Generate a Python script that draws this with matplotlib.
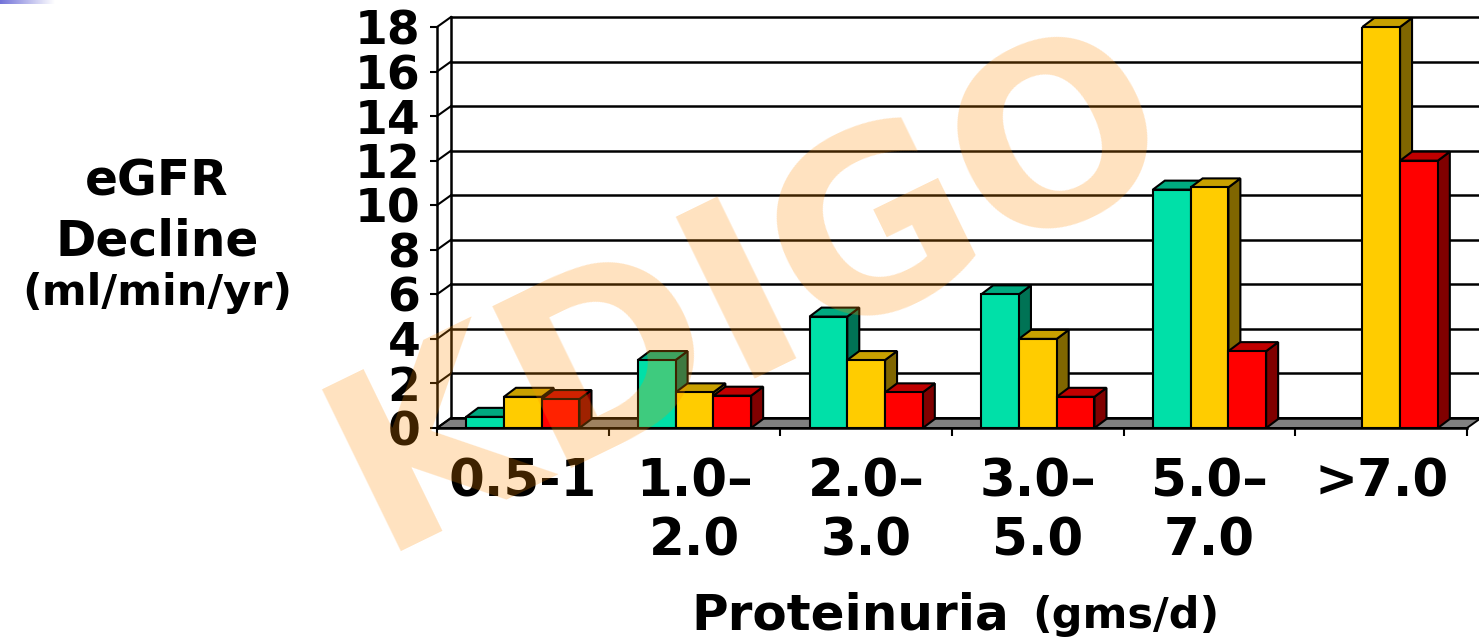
import matplotlib.pyplot as plt
import numpy as np
from matplotlib.patches import Polygon

# data (eGFR decline, ml/min/yr)
categories = ["0.5-1", "1.0–\n2.0", "2.0–\n3.0", "3.0–\n5.0", "5.0–\n7.0", ">7.0"]
green_vals = [0.5, 3.05, 5.0, 6.0, 10.7, np.nan]
yellow_vals = [1.4, 1.6, 3.05, 4.0, 10.8, 18.0]
red_vals = [1.3, 1.45, 1.6, 1.4, 3.45, 12.0]
y_ticks = [0, 2, 4, 6, 8, 10, 12, 14, 16, 18]

# front / top / side colours of each series
series = [
    (green_vals, "#00E0A8", "#00AA80", "#007355"),
    (yellow_vals, "#FFCC00", "#C8A000", "#806600"),
    (red_vals, "#FF0000", "#C00000", "#800000"),
]

W, H = 1479, 640
fig = plt.figure(figsize=(W / 100, H / 100), dpi=100)

# plot area in pixels (front plane)
left, right, bottom, top = 437, 1467, 428, 27
ax = fig.add_axes([left / W, 1 - bottom / H, (right - left) / W, (bottom - top) / H])
ax.set_xlim(0, 6)
ax.set_ylim(0, 18)
ax.patch.set_visible(False)

ppx = (right - left) / 6.0
ppy = (bottom - top) / 18.0
wall_dx, wall_dy = 14 / ppx, 10 / ppy
bar_dx, bar_dy = 12 / ppx, 9 / ppy

# floor
ax.add_patch(Polygon([(0, 0), (6, 0), (6 + wall_dx, wall_dy), (wall_dx, wall_dy)],
                     closed=True, fc="#808080", ec="black", lw=1.4, clip_on=False, zorder=1))

# back wall grid + side wall lines
for v in y_ticks:
    ax.plot([wall_dx, 6 + wall_dx], [v + wall_dy, v + wall_dy], color="black", lw=1.8,
            clip_on=False, zorder=1.5)
    ax.plot([0, wall_dx], [v, v + wall_dy], color="black", lw=1.5, clip_on=False, zorder=1.5)
ax.plot([wall_dx, wall_dx], [wall_dy, 18 + wall_dy], color="black", lw=1.8, clip_on=False, zorder=1.5)

# 3d-looking bars
bw = 0.22
for c in range(len(categories)):
    for s, (vals, fc, tc, sc) in enumerate(series):
        v = vals[c]
        if np.isnan(v):
            continue
        x0 = c + 0.17 + s * bw
        z = 2 + (c * 3 + s) * 0.05
        side = [(x0 + bw, 0), (x0 + bw + bar_dx, bar_dy), (x0 + bw + bar_dx, v + bar_dy), (x0 + bw, v)]
        topf = [(x0, v), (x0 + bw, v), (x0 + bw + bar_dx, v + bar_dy), (x0 + bar_dx, v + bar_dy)]
        ax.add_patch(Polygon(side, closed=True, fc=sc, ec="black", lw=1.5, zorder=z, clip_on=False))
        ax.add_patch(Polygon(topf, closed=True, fc=tc, ec="black", lw=1.5, zorder=z + 0.01, clip_on=False))
        ax.bar(x0, v, bw, align="edge", color=fc, edgecolor="black", lw=1.5, zorder=z + 0.02)

for sp in ["top", "right"]:
    ax.spines[sp].set_visible(False)
for sp in ["left", "bottom"]:
    ax.spines[sp].set_linewidth(1.8)
    ax.spines[sp].set_zorder(5)

ax.set_yticks(y_ticks)
ax.set_yticklabels([str(t) for t in y_ticks], fontsize=34, fontweight="bold")
ax.tick_params(axis="y", length=5, width=1.5, pad=7)

ax.set_xticks(range(7))
ax.set_xticklabels([""] * 7)
ax.tick_params(axis="x", which="major", length=6, width=1.5)
ax.set_xticks(np.arange(6) + 0.5, minor=True)
ax.set_xticklabels(categories, minor=True, fontsize=37, fontweight="bold", linespacing=1.25)
ax.tick_params(axis="x", which="minor", length=0, pad=21)

# axis titles
fig.text(157 / W, 1 - 195 / H, "eGFR", ha="center", va="baseline", fontsize=35, fontweight="bold")
fig.text(157 / W, 1 - 255 / H, "Decline", ha="center", va="baseline", fontsize=35, fontweight="bold")
fig.text(157 / W, 1 - 305 / H, "(ml/min/yr)", ha="center", va="baseline", fontsize=31, fontweight="bold")
fig.text(850 / W, 1 - 629 / H, "Proteinuria", ha="center", va="baseline", fontsize=36, fontweight="bold")
fig.text(1126 / W, 1 - 628 / H, "(gms/d)", ha="center", va="baseline", fontsize=31, fontweight="bold")

# watermark
fig.text(378 / W, 1 - 551 / H, "KDIGO", rotation=26, rotation_mode="anchor", ha="left", va="baseline",
         fontsize=177, fontweight="bold", color="darkorange", alpha=0.25, zorder=10)

# small gradient strip in the top-left corner
gax = fig.add_axes([0, 1 - 4 / H, 55 / W, 4 / H])
grad = np.linspace(0, 1, 100)
cols = np.array([[0.45, 0.45, 0.85]]) * (1 - grad[:, None]) + grad[:, None]
gax.imshow(cols[None, :, :], aspect="auto")
gax.axis("off")

fig.savefig("out.png", dpi=100)
